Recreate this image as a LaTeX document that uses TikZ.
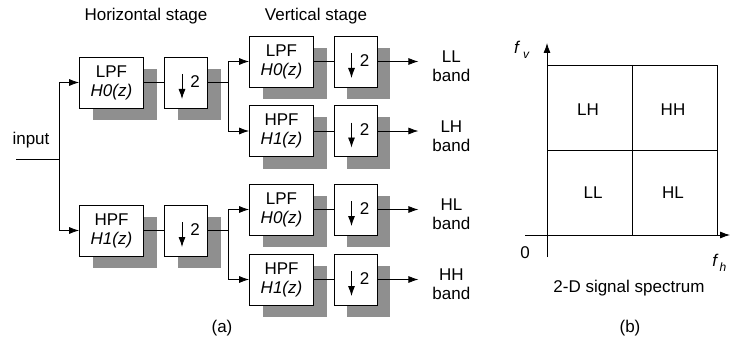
\documentclass[tikz,border=0pt]{standalone}
\usepackage{fontspec}
\setmainfont{Liberation Sans}
\usetikzlibrary{arrows.meta,shadows}

\begin{document}
\begin{tikzpicture}[x=1pt, y=-1pt, font=\fontsize{17}{19}\selectfont, line width=0.8pt,
    filt/.style={draw, fill=white, align=center, minimum width=64pt, minimum height=51pt, inner sep=1pt,
      drop shadow={shadow xshift=13pt, shadow yshift=-12pt, fill=black!44, opacity=1}},
    down/.style={filt, minimum width=43pt},
    arr/.style={-{Latex[length=10pt,width=7pt]}}]
    \useasboundingbox (0,0) rectangle (730,342);
    % titles
    \node (htitle) at (146,16) {Horizontal stage};
    \node (vtitle) at (316,16) {Vertical stage};
    % horizontal stage
    \node[filt] (hlpf) at (111.5,82.5) {LPF\\\textit{H0(z)}};
    \node[down] (hd1) at (186,82.5) {};
    \node[filt] (hhpf) at (111.5,230.5) {HPF\\\textit{H1(z)}};
    \node[down] (hd2) at (186,230.5) {};
    % vertical stage
    \node[filt] (vlpf1) at (281.5,61.5) {LPF\\\textit{H0(z)}};
    \node[down] (vd1) at (355.5,61.5) {};
    \node[filt] (vhpf1) at (281.5,131) {HPF\\\textit{H1(z)}};
    \node[down] (vd2) at (355.5,131) {};
    \node[filt] (vlpf2) at (281.5,209.5) {LPF\\\textit{H0(z)}};
    \node[down] (vd3) at (355.5,209.5) {};
    \node[filt] (vhpf2) at (281.5,279.5) {HPF\\\textit{H1(z)}};
    \node[down] (vd4) at (355.5,279.5) {};
    % down by 2
    \foreach \d in {hd1,hd2,vd1,vd2,vd3,vd4} {
        \draw[arr] ([xshift=-4pt,yshift=8.5pt]\d.center) -- ([xshift=-4pt,yshift=-16.5pt]\d.center);
        \node (two-\d) at ([xshift=9pt,yshift=1pt]\d.center) {2};
    }
    % input
    \coordinate (in) at (16,159);
    \coordinate (split) at (59,159);
    \node (inlbl) at (31,140) {input};
    \draw (in) -- (split);
    \draw[arr] (split) |- (hlpf.west);
    \draw[arr] (split) |- (hhpf.west);
    \draw (hlpf) -- (hd1);
    \draw (hhpf) -- (hd2);
    % branches
    \coordinate (b1) at (228,82.5);
    \coordinate (b2) at (228,230.5);
    \draw (hd1) -- (b1);
    \draw (hd2) -- (b2);
    \draw[arr] (b1) |- (vlpf1.west);
    \draw[arr] (b1) |- (vhpf1.west);
    \draw[arr] (b2) |- (vlpf2.west);
    \draw[arr] (b2) |- (vhpf2.west);
    \draw (vlpf1) -- (vd1);
    \draw (vhpf1) -- (vd2);
    \draw (vlpf2) -- (vd3);
    \draw (vhpf2) -- (vd4);
    % outputs
    \foreach \d/\o/\t in {vd1/oll/LL, vd2/olh/LH, vd3/ohl/HL, vd4/ohh/HH} {
        \draw[arr] (\d.east) -- ++(41,0) coordinate (\o);
        \node[align=center] (lbl-\o) at ([xshift=33pt,yshift=-5pt]\o) {\t\\band};
    }
    \node (capa) at (222,328) {(a)};
    % spectrum
    \draw (547,65) rectangle (717,235);
    \draw (632,65) -- (632,235);
    \draw (547,150) -- (717,150);
    \draw[arr] (525,235) -- (730,235);
    \draw[arr] (547,257) -- (547,43);
    \node (qlh) at (588,110) {LH};
    \node (qhh) at (673,110) {HH};
    \node (qll) at (593,193) {LL};
    \node (qhl) at (673,193) {HL};
    \node (fv) at (522,50) {\textit{f}\,\raisebox{-0.5ex}{\fontsize{12}{14}\selectfont\textit{v}}};
    \node[anchor=west, inner sep=0pt] (fh) at (712,263) {\textit{f}\kern1pt\raisebox{-0.5ex}{\fontsize{12}{14}\selectfont\textit{h}}};
    \node (zero) at (525,253) {0};
    \node (spec) at (629,288) {2-D signal spectrum};
    \node (capb) at (630,328) {(b)};
\end{tikzpicture}
\end{document}
